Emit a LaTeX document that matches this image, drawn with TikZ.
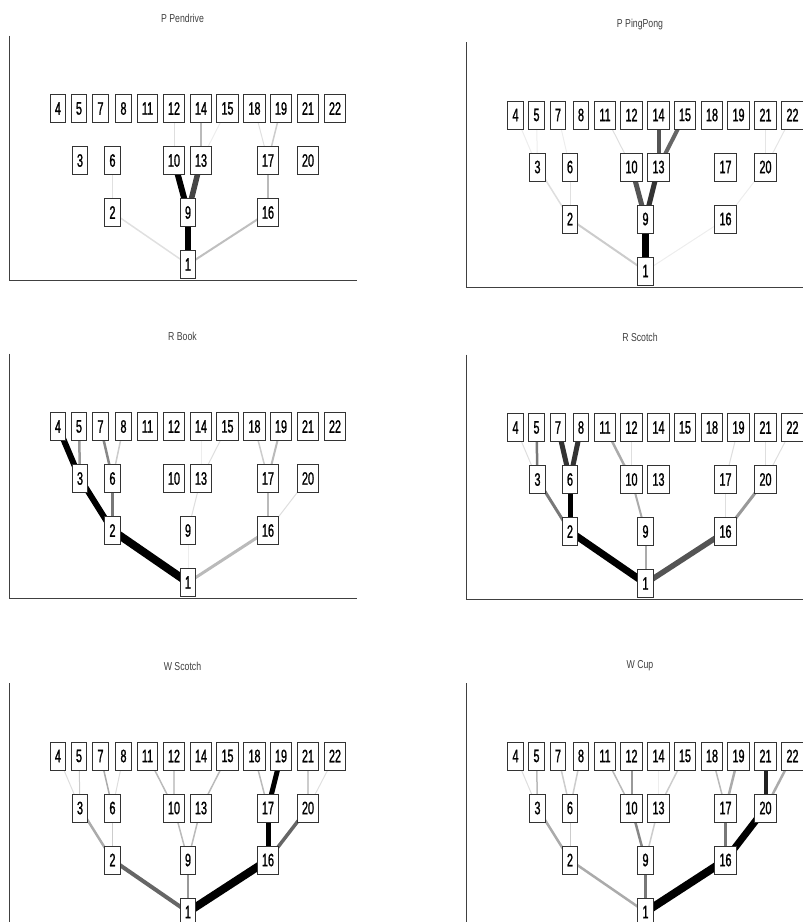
\documentclass[tikz,border=0pt]{standalone}
\usepackage{fontspec}
\setmainfont{Liberation Sans}
\newfontfamily\boxfont[FakeStretch=0.6, FakeBold=1.2]{Liberation Sans}
\newfontfamily\titlefont[FakeStretch=0.76]{Liberation Sans}
\usetikzlibrary{backgrounds}

% one panel: prefix, x offset, y offset (top row), title
\newcommand{\treepanel}[4]{%
  \begin{scope}[shift={(#2,#3)}]
    \draw[axisline] (9,-73) -- (9,172) -- (357,172);
    \node[paneltitle] (#1title) at (182.5,-90) {#4};
    \foreach \n/\x in {4/58, 5/79, 7/100.5, 8/123.5, 11/147.5, 12/174, 14/201,
                       15/227.5, 18/254.5, 19/281, 21/308, 22/335}
      \node[numbox] (#1\n) at (\x,0) {\n};
    \foreach \n/\x in {3/80, 6/112.5, 10/174, 13/201, 17/268, 20/308}
      \node[numbox] (#1\n) at (\x,52) {\n};
    \foreach \n/\x in {2/112.5, 9/188, 16/268}
      \node[numbox] (#1\n) at (\x,104) {\n};
    \node[numbox] (#11) at (188,156) {1};
  \end{scope}}

% links under the boxes: from/to/gray percent/width
\newcommand{\treelinks}[2]{%
  \begin{scope}[on background layer]
    \foreach \a/\b/\g/\w in {#2}
      \draw[line width=\w pt, draw=black!\g] (#1\a.center) -- (#1\b.center);
  \end{scope}}

\begin{document}
\begin{tikzpicture}[x=1pt, y=-1pt,
    numbox/.style={draw=black!80, line width=0.8pt, fill=white, inner xsep=4.7pt,
      inner ysep=0pt, minimum height=28pt, font=\boxfont\fontsize{18}{18}\selectfont},
    paneltitle/.style={text=black!75, inner sep=0pt, font=\titlefont\fontsize{11.5}{11.5}\selectfont},
    axisline/.style={draw=black!75, line width=0.9pt},
  ]
  \useasboundingbox (0,0) rectangle (803,922);
  \clip (0,0) rectangle (803,922);

  \treepanel{A}{0}{108.5}{P Pendrive}
  \treepanel{B}{457.5}{115}{P PingPong}
  \treepanel{C}{0}{426.5}{R Book}
  \treepanel{D}{457.5}{427.5}{R Scotch}
  \treepanel{E}{0}{756}{W Scotch}
  \treepanel{F}{457.5}{756}{W Cup}

  \treelinks{A}{1/9/100/6.5, 9/10/100/6, 9/13/73/5.5, 1/2/12/1.5, 1/16/25/2,
    2/6/12/1, 10/12/13/1, 13/14/27/1.5, 13/15/7/1, 16/17/27/1.5, 17/18/12/1,
    17/19/20/1.5}
  \treelinks{B}{1/9/100/6.5, 9/10/67/5, 9/13/80/5, 13/14/67/4, 13/15/60/4,
    1/2/20/2, 1/16/7/1, 2/3/13/1.5, 2/6/12/1, 3/4/7/1, 3/5/7/1, 6/7/7/1,
    10/11/13/1, 16/20/7/1, 20/21/10/1, 20/22/10/1}
  \treelinks{C}{1/2/100/8, 2/3/100/6, 3/4/100/6, 1/16/27/3, 2/6/53/2.5,
    3/5/40/2.5, 6/7/47/2.5, 6/8/20/1.5, 1/9/7/1, 9/13/13/1, 13/14/7/1,
    13/15/13/1, 16/17/27/2, 16/20/13/1, 17/18/20/1.5, 17/19/27/2}
  \treelinks{D}{1/2/100/7, 1/16/67/5.5, 1/9/33/2, 2/3/53/3, 2/6/100/5,
    3/4/13/1, 3/5/53/2.5, 6/7/80/5, 6/8/80/5, 9/10/33/2, 10/11/33/2.5,
    10/12/13/1, 16/17/13/1, 16/20/40/3, 17/19/13/1, 20/21/13/1, 20/22/13/1}
  \treelinks{E}{1/16/100/8, 1/2/60/4, 1/9/40/2, 2/3/33/2.5, 2/6/20/1.5,
    3/4/13/1, 3/5/20/1, 6/7/33/1.5, 6/8/13/1, 9/10/27/1.5, 9/13/27/1.5,
    10/11/27/1.5, 10/12/20/1.5, 13/15/27/1.5, 16/17/100/5, 16/20/60/3.5,
    17/18/27/1.5, 17/19/100/5, 20/21/20/1.5, 20/22/12/1}
  \treelinks{F}{1/16/100/8, 1/2/33/2.5, 1/9/53/2.5, 2/3/33/2.5, 2/6/20/1,
    3/4/13/1, 3/5/27/1.5, 6/7/20/1.5, 6/8/20/1.5, 9/10/47/2.5, 9/13/20/1.5,
    10/11/27/1.5, 10/12/40/2, 13/14/7/1, 13/15/20/1.5, 16/17/53/3,
    16/20/100/7, 17/18/27/1.5, 17/19/33/2.5, 20/21/87/4, 20/22/33/2.5}
\end{tikzpicture}
\end{document}
